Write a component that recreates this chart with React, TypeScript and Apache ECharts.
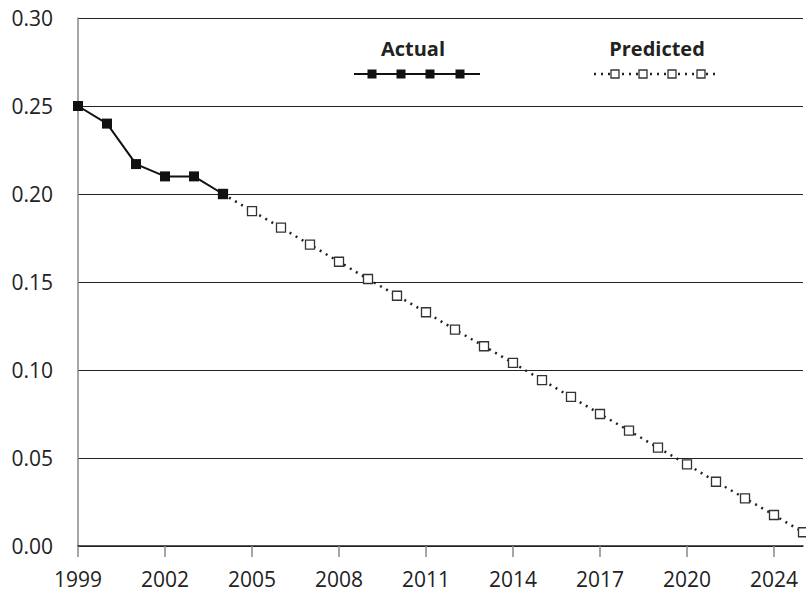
import React, { useEffect, useRef } from "react";
import * as echarts from "echarts";

const years = [
  "1999", "2000", "2001", "2002", "2003", "2004", "2005", "2006", "2007",
  "2008", "2009", "2010", "2011", "2012", "2013", "2014", "2015", "2016",
  "2017", "2018", "2019", "2020", "2021", "2022", "2023", "2024",
];
const xTickLabels = ["1999", "2002", "2005", "2008", "2011", "2014", "2017", "2020", "2024"];
const actualValues: (number | null)[] = [0.25, 0.24, 0.217, 0.21, 0.21, 0.2];
const predictedValues: (number | null)[] = [
  null, null, null, null, null, 0.2,
  0.1903, 0.1809, 0.1712, 0.1615, 0.1517, 0.1422, 0.1328, 0.1229, 0.1135,
  0.104, 0.0943, 0.0847, 0.075, 0.0655, 0.0559, 0.0464, 0.0365, 0.0271,
  0.0176, 0.0078,
];
const legendNames = ["Actual", "Predicted"];

const FONT = "'Open Sans', 'Noto Sans', sans-serif";
const TEXT = "#222";

export default function App() {
  const ref = useRef<HTMLDivElement>(null);
  useEffect(() => {
    if (!ref.current) return;
    const chart = echarts.init(ref.current, null, { renderer: "svg" });

    const legendGraphics: any[] = [];
    legendGraphics.push({
      type: "text",
      x: 413,
      y: 48,
      style: {
        text: legendNames[0],
        font: `bold 20px ${FONT}`,
        fill: TEXT,
        align: "center",
        verticalAlign: "middle",
      },
    });
    legendGraphics.push({
      type: "line",
      shape: { x1: 354, y1: 74, x2: 480, y2: 74 },
      style: { stroke: "#111", lineWidth: 2 },
    });
    [372, 401, 430, 460].forEach((cx) => {
      legendGraphics.push({
        type: "rect",
        shape: { x: cx - 4.5, y: 74 - 4.5, width: 9, height: 9 },
        style: { fill: "#111" },
      });
    });
    legendGraphics.push({
      type: "text",
      x: 657,
      y: 48,
      style: {
        text: legendNames[1],
        font: `bold 20px ${FONT}`,
        fill: TEXT,
        align: "center",
        verticalAlign: "middle",
      },
    });
    legendGraphics.push({
      type: "line",
      shape: { x1: 594, y1: 74, x2: 720, y2: 74 },
      style: { stroke: "#222", lineWidth: 2.5, lineDash: [2, 5] },
    });
    [615, 643, 672, 701].forEach((cx) => {
      legendGraphics.push({
        type: "rect",
        shape: { x: cx - 4, y: 74 - 4, width: 8, height: 8 },
        style: { fill: "#fff", stroke: "#333", lineWidth: 1.3 },
      });
    });

    chart.setOption({
      animation: false,
      backgroundColor: "#fff",
      grid: { left: 78, right: 3, top: 18, bottom: 47, containLabel: false },
      xAxis: {
        type: "category",
        data: years,
        boundaryGap: false,
        axisLine: { lineStyle: { color: "#222", width: 1.5 } },
        axisTick: {
          interval: 2,
          length: 11,
          lineStyle: { color: "#888", width: 1.5 },
        },
        axisLabel: {
          interval: 2,
          margin: 22,
          fontFamily: FONT,
          fontSize: 21,
          color: TEXT,
          formatter: (_v: string, idx: number) => xTickLabels[Math.floor(idx / 3)] ?? "",
        },
        splitLine: { show: false },
      },
      yAxis: {
        type: "value",
        min: 0,
        max: 0.3,
        interval: 0.05,
        axisLine: { show: true, lineStyle: { color: "#888", width: 1.5 } },
        axisTick: { show: false },
        axisLabel: {
          margin: 25,
          fontFamily: FONT,
          fontSize: 21,
          color: TEXT,
          formatter: (v: number) => v.toFixed(2),
        },
        splitLine: { show: true, lineStyle: { color: "#222", width: 1 } },
      },
      graphic: legendGraphics,
      series: [
        {
          name: legendNames[1],
          type: "line",
          data: predictedValues,
          connectNulls: false,
          symbol: "rect",
          symbolSize: 9,
          itemStyle: { color: "#fff", borderColor: "#333", borderWidth: 1.3 },
          lineStyle: { color: "#222", width: 2.5, type: [2, 5] },
          z: 2,
        },
        {
          name: legendNames[0],
          type: "line",
          data: actualValues,
          symbol: "rect",
          symbolSize: 10,
          itemStyle: { color: "#111" },
          lineStyle: { color: "#111", width: 2 },
          z: 3,
        },
      ],
    });
    return () => chart.dispose();
  }, []);
  return (
    <div
      ref={ref}
      style={{ position: "fixed", left: 0, top: 0, width: 806, height: 593 }}
    />
  );
}
